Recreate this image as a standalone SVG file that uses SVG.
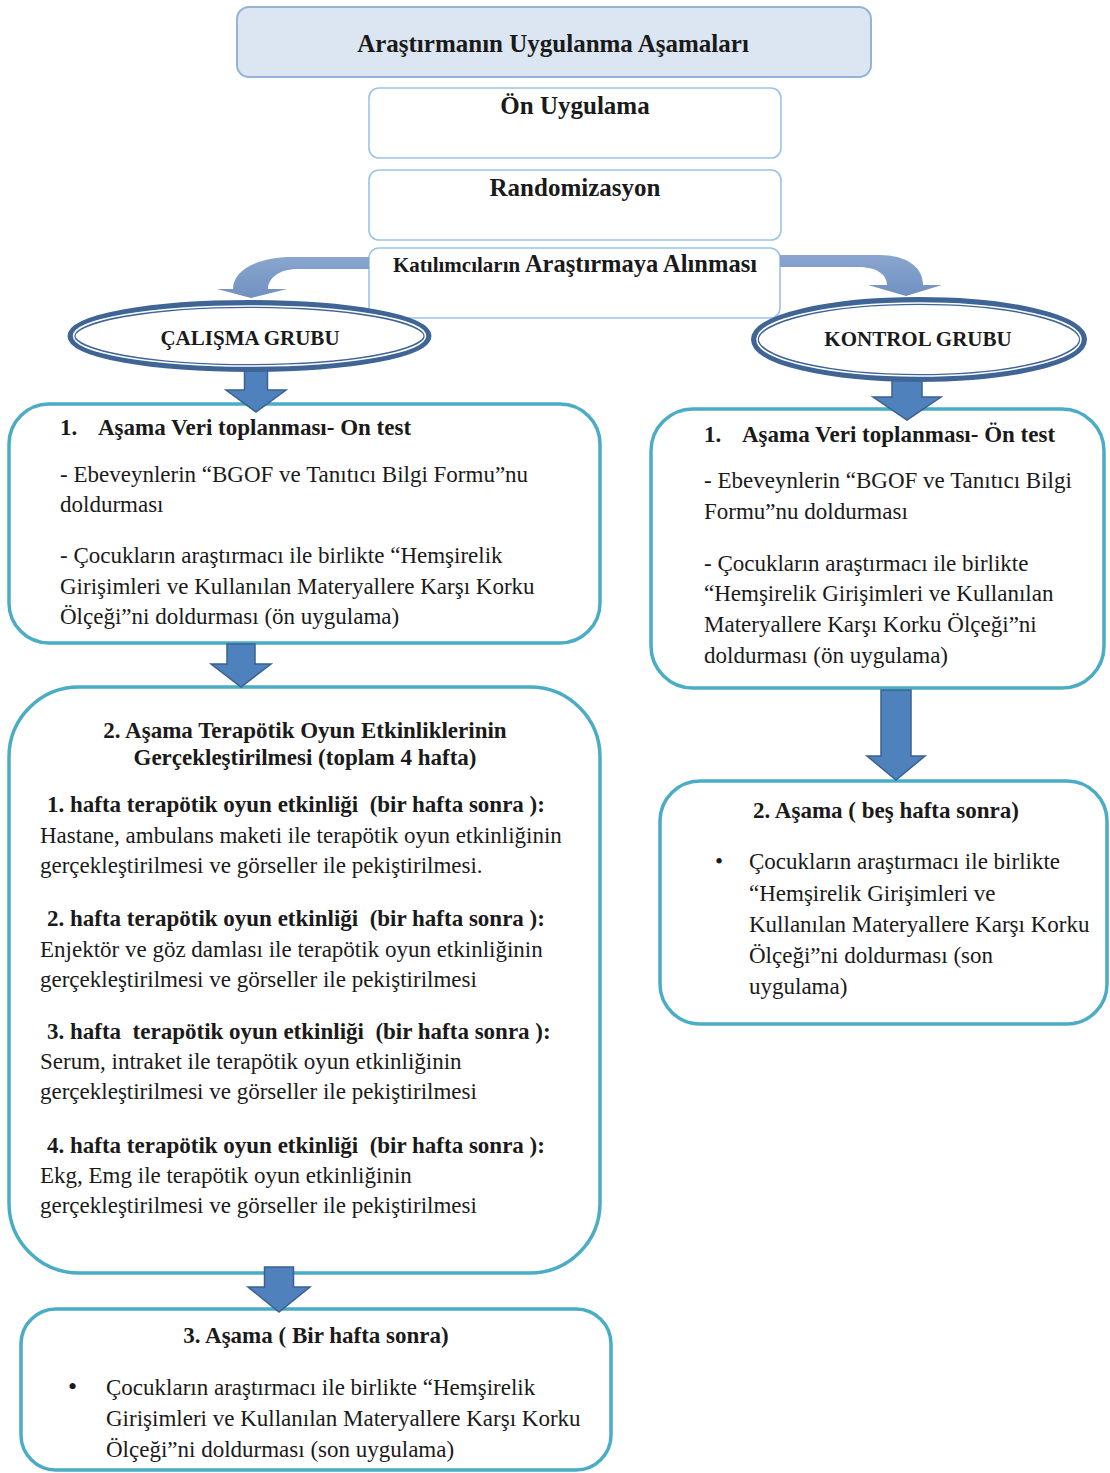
<svg xmlns="http://www.w3.org/2000/svg" width="1110" height="1473" viewBox="0 0 1110 1473">
<defs>
<style>
.t{font-family:"Liberation Serif","Times New Roman",serif;fill:#1a1a1a;}
.b{font-weight:bold;}
.s23{font-size:23px;}
.s25{font-size:25px;}
.topbox{fill:#ffffff;stroke:#9dc3e6;stroke-width:1.6;}
.box{fill:#ffffff;stroke:#4bacc6;stroke-width:3.5;}
.blk{fill:#4f81bd;stroke:#3a6190;stroke-width:1.5;}
.curv{fill:url(#cg);}
.ell{fill:#ffffff;stroke:#3f6496;stroke-width:8;}
.ellw{fill:none;stroke:#ffffff;stroke-width:1.5;}
</style>
<linearGradient id="cg" x1="0" y1="0" x2="0" y2="1">
<stop offset="0" stop-color="#8aa6cf"/>
<stop offset="1" stop-color="#7090c0"/>
</linearGradient>
</defs>
<rect width="1110" height="1473" fill="#ffffff"/>

<g id="title">
<rect x="237" y="7" width="634" height="70" rx="12" fill="#dce6f2" stroke="#95b3d7" stroke-width="2"/>
<text class="t b s25" x="553" y="52" text-anchor="middle">Araştırmanın Uygulanma Aşamaları</text>
</g>

<g id="on-uygulama">
<rect class="topbox" x="369" y="88" width="412" height="70" rx="10"/>
<text class="t b s25" x="575" y="114" text-anchor="middle">Ön Uygulama</text>
</g>

<g id="randomizasyon">
<rect class="topbox" x="369" y="170" width="412" height="70" rx="10"/>
<text class="t b s25" x="575" y="196" text-anchor="middle">Randomizasyon</text>
</g>

<g id="katilimcilar">
<rect class="topbox" x="369" y="248" width="411" height="70" rx="10"/>
<text class="t b" x="575" y="272" text-anchor="middle"><tspan font-size="21">Katılımcıların</tspan><tspan font-size="24.5"> Araştırmaya Alınması</tspan></text>
</g>

<g id="calisma-asama1">
<rect class="box" x="9" y="404" width="591" height="239" rx="40"/>
<text class="t b s23" y="435"><tspan x="60">1.</tspan><tspan x="98">Aşama Veri toplanması- On test</tspan></text>
<text class="t s23" x="60" y="482">- Ebeveynlerin “BGOF ve Tanıtıcı Bilgi Formu”nu</text>
<text class="t s23" x="60" y="512">doldurması</text>
<text class="t s23" x="60" y="563">- Çocukların araştırmacı ile birlikte “Hemşirelik</text>
<text class="t s23" x="60" y="594">Girişimleri ve Kullanılan Materyallere Karşı Korku</text>
<text class="t s23" x="60" y="624">Ölçeği”ni doldurması (ön uygulama)</text>
</g>

<g id="kontrol-asama1">
<rect class="box" x="651" y="409" width="453" height="279" rx="42"/>
<text class="t b s23" y="442"><tspan x="704">1.</tspan><tspan x="742">Aşama Veri toplanması- Ön test</tspan></text>
<text class="t s23" x="704" y="488">- Ebeveynlerin “BGOF ve Tanıtıcı Bilgi</text>
<text class="t s23" x="704" y="519">Formu”nu doldurması</text>
<text class="t s23" x="704" y="571">- Çocukların araştırmacı ile birlikte</text>
<text class="t s23" x="704" y="601">“Hemşirelik Girişimleri ve Kullanılan</text>
<text class="t s23" x="704" y="632">Materyallere Karşı Korku Ölçeği”ni</text>
<text class="t s23" x="704" y="663">doldurması (ön uygulama)</text>
</g>

<g id="calisma-asama2">
<rect class="box" x="9" y="687" width="591" height="586" rx="70"/>
<text class="t b s23" x="305" y="738" text-anchor="middle">2. Aşama Terapötik Oyun Etkinliklerinin</text>
<text class="t b s23" x="305" y="765" text-anchor="middle">Gerçekleştirilmesi (toplam 4 hafta)</text>
<text class="t b s23" x="47" y="812" xml:space="preserve">1. hafta terapötik oyun etkinliği  (bir hafta sonra ):</text>
<text class="t s23" x="40" y="843">Hastane, ambulans maketi ile terapötik oyun etkinliğinin</text>
<text class="t s23" x="40" y="873">gerçekleştirilmesi ve görseller ile pekiştirilmesi.</text>
<text class="t b s23" x="47" y="926" xml:space="preserve">2. hafta terapötik oyun etkinliği  (bir hafta sonra ):</text>
<text class="t s23" x="40" y="957">Enjektör ve göz damlası ile terapötik oyun etkinliğinin</text>
<text class="t s23" x="40" y="987">gerçekleştirilmesi ve görseller ile pekiştirilmesi</text>
<text class="t b s23" x="47" y="1039" xml:space="preserve">3. hafta  terapötik oyun etkinliği  (bir hafta sonra ):</text>
<text class="t s23" x="40" y="1069">Serum, intraket ile terapötik oyun etkinliğinin</text>
<text class="t s23" x="40" y="1099">gerçekleştirilmesi ve görseller ile pekiştirilmesi</text>
<text class="t b s23" x="47" y="1153" xml:space="preserve">4. hafta terapötik oyun etkinliği  (bir hafta sonra ):</text>
<text class="t s23" x="40" y="1183">Ekg, Emg ile terapötik oyun etkinliğinin</text>
<text class="t s23" x="40" y="1213">gerçekleştirilmesi ve görseller ile pekiştirilmesi</text>
</g>

<g id="kontrol-asama2">
<rect class="box" x="660" y="781" width="447" height="243" rx="40"/>
<text class="t b s23" x="886" y="818" text-anchor="middle">2. Aşama ( beş hafta sonra)</text>
<text class="t s23" x="715" y="869" font-size="26">•</text>
<text class="t s23" x="749" y="869">Çocukların araştırmacı ile birlikte</text>
<text class="t s23" x="749" y="901">“Hemşirelik Girişimleri ve</text>
<text class="t s23" x="749" y="932">Kullanılan Materyallere Karşı Korku</text>
<text class="t s23" x="749" y="963">Ölçeği”ni doldurması (son</text>
<text class="t s23" x="749" y="994">uygulama)</text>
</g>

<g id="calisma-asama3">
<rect class="box" x="21" y="1309" width="590" height="161" rx="35"/>
<text class="t b s23" x="316" y="1343" text-anchor="middle">3. Aşama ( Bir hafta sonra)</text>
<text class="t" x="68" y="1395" font-size="26">•</text>
<text class="t s23" x="106" y="1395">Çocukların araştırmacı ile birlikte “Hemşirelik</text>
<text class="t s23" x="106" y="1426">Girişimleri ve Kullanılan Materyallere Karşı Korku</text>
<text class="t s23" x="106" y="1457">Ölçeği”ni doldurması (son uygulama)</text>
</g>

<g id="connectors">
<path class="curv" d="M369 257 L292 257 C258 257 233 270 233 289 L217 289 L251 298 L287 289 L268 289 C268 279 278 269 298 269 L369 269 Z"/>
<path class="curv" d="M780 255 L880 255 C905 255 923 266 923 285 L942 285 L906 296 L868 285 L887 285 C887 276 879 267 858 267 L780 267 Z"/>
<path class="blk" d="M244.5 366 H267.5 V390 H286 L256 412 L226 390 H244.5 Z"/>
<path class="blk" d="M892 376 H922 V397 H941 L907 420 L873 397 H892 Z"/>
<path class="blk" d="M227 644 H255 V664 H271 L241 687 L211 664 H227 Z"/>
<path class="blk" d="M881 690 H911 V756 H925 L896 780 L867 756 H881 Z"/>
<path class="blk" d="M264.5 1267 H293.5 V1287 H310 L279 1312 L248 1287 H264.5 Z"/>
</g>

<g id="calisma-grubu">
<ellipse class="ell" cx="249.5" cy="336" rx="178" ry="32"/>
<ellipse class="ellw" cx="249.5" cy="336" rx="176" ry="30"/>
<text class="t b" font-size="21" x="250" y="345" text-anchor="middle">ÇALIŞMA GRUBU</text>
</g>

<g id="kontrol-grubu">
<ellipse class="ell" cx="919" cy="339.5" rx="164" ry="38.5"/>
<ellipse class="ellw" cx="919" cy="339.5" rx="162" ry="36.5"/>
<text class="t b" font-size="21" x="918" y="346" text-anchor="middle">KONTROL GRUBU</text>
</g>
</svg>
